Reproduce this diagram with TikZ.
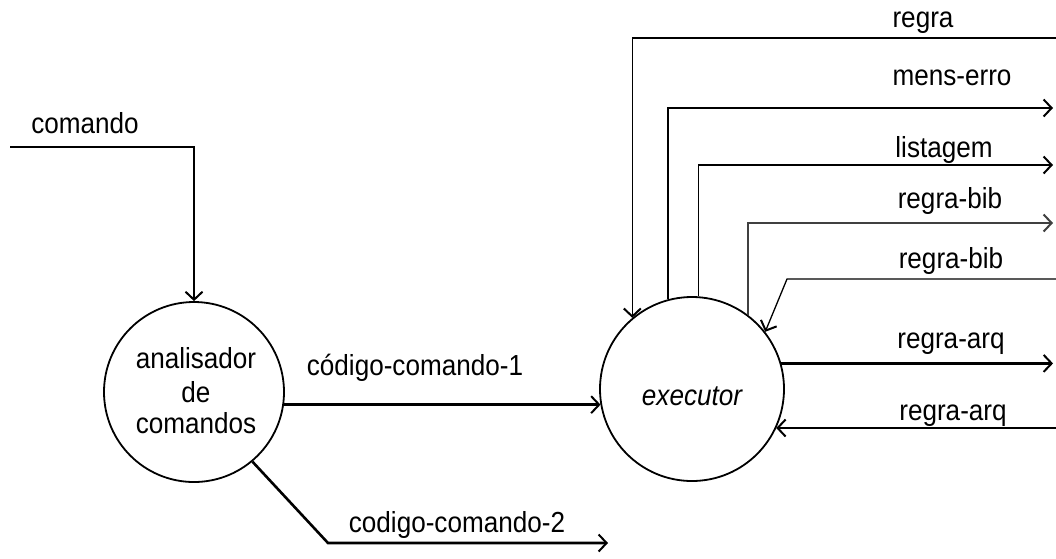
\documentclass[tikz,border=0pt]{standalone}
\usepackage{fontspec}
\setmainfont{Liberation Sans}[FakeStretch=0.9]
\usetikzlibrary{arrows.meta}
\begin{document}
\begin{tikzpicture}[x=1pt,y=-1pt,
  flow/.style={line width=1.3pt},
  heavy/.style={line width=2.6pt},
  tip/.style={-{Straight Barb[length=8pt,width=17pt,line width=2pt]}},
  lbl/.style={anchor=base, inner sep=0pt, font=\fontsize{29}{32}\selectfont},
  proc/.style={circle, draw, line width=1.8pt, inner sep=0pt}]
  % canvas
  \fill[white] (0,0) rectangle (1056,558);
  \useasboundingbox (0,0) rectangle (1056,558);

  % processes
  \node[proc, minimum size=180pt] (anal) at (194,392) {};
  \node[proc, minimum size=184pt] (exec) at (692,389) {};
  \node[lbl] (anal1) at (196,368) {analisador};
  \node[lbl] (anal2) at (196,402) {de};
  \node[lbl] (anal3) at (196,433) {comandos};
  \node[lbl, font=\fontsize{29}{32}\selectfont\itshape] (execl) at (692,405) {executor};

  % free ends of the flows
  \coordinate (cmdIn)   at (10,147);
  \coordinate (regraIn) at (1056,38);
  \coordinate (mensOut) at (1053,108);
  \coordinate (listOut) at (1053,165);
  \coordinate (bibOut)  at (1053,223);
  \coordinate (bibIn)   at (1056,279);
  \coordinate (bibBend) at (787,279);
  \coordinate (arqOut)  at (1053,363);
  \coordinate (arqIn)   at (1056,428);
  \coordinate (c2bend)  at (328,543);
  \coordinate (c2end)   at (608,543);

  % flows
  \draw[flow,tip]  (cmdIn) -| (anal.north);
  \draw[heavy,tip] (anal.-8.3) -- (anal.-8.3 -| exec.190);
  \draw[heavy,tip] (anal.-50) -- (c2bend) -- (c2end);
  \draw[flow,tip]  (regraIn) -| (exec.130.7);
  \draw[heavy,tip] (exec.105.1) |- (mensOut);
  \draw[flow,tip]  (exec.86.9) |- (listOut);
  \draw[flow,tip,black!75] (exec.53.3) |- (bibOut);
  \draw[flow,tip]  (bibIn) -- (bibBend) -- (exec.38);
  \draw[heavy,tip] (exec.16.4) -- (exec.16.4 -| arqOut);
  \draw[flow,tip]  (arqIn) -- (arqIn -| exec.-25);

  % flow labels
  \node[lbl] (lcmd)   at (85,133)  {comando};
  \node[lbl] (lc1)    at (415,375) {código-comando-1};
  \node[lbl] (lc2)    at (457,532) {codigo-comando-2};
  \node[lbl] (lregra) at (923,27)  {regra};
  \node[lbl] (lmens)  at (952,85)  {mens-erro};
  \node[lbl] (llist)  at (944,157) {listagem};
  \node[lbl] (lbibo)  at (950,208) {regra-bib};
  \node[lbl] (lbibi)  at (951,268) {regra-bib};
  \node[lbl] (larqo)  at (951,348) {regra-arq};
  \node[lbl] (larqi)  at (953,420) {regra-arq};
\end{tikzpicture}
\end{document}
